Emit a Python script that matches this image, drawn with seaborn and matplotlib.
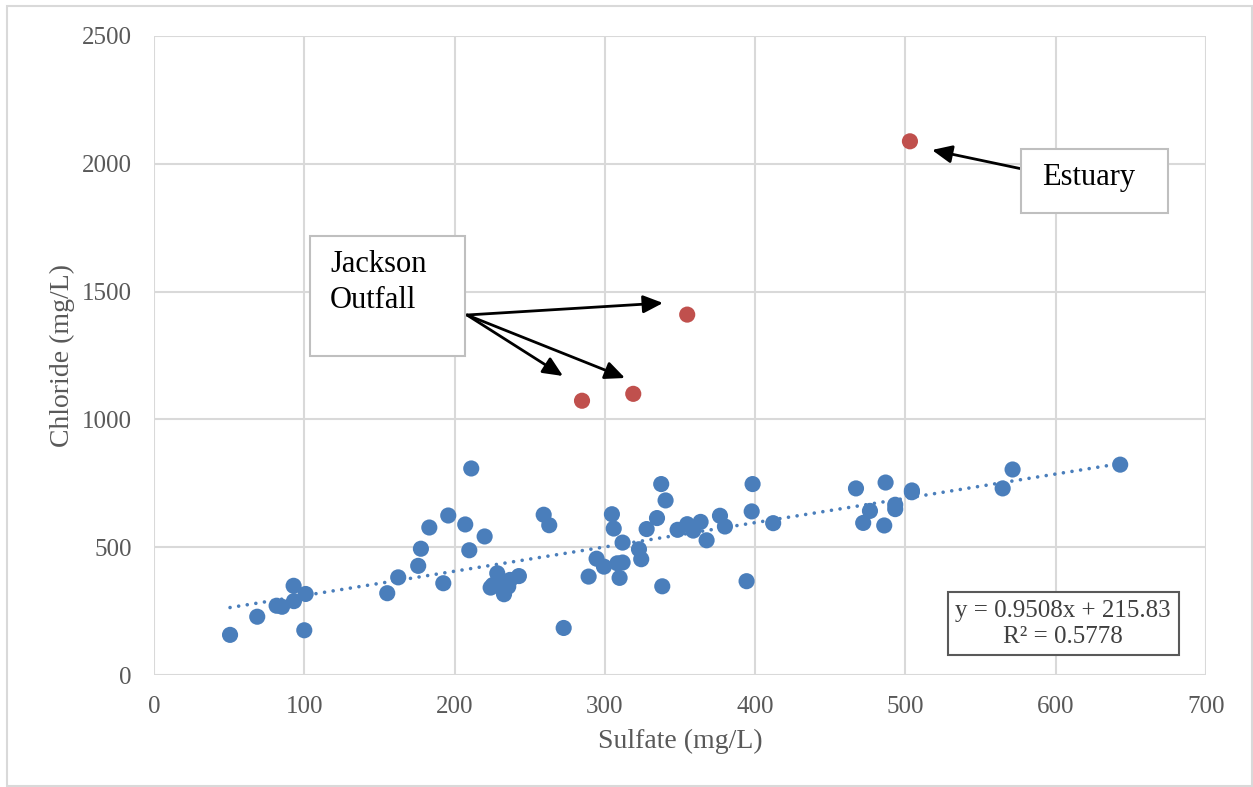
import numpy as np
import pandas as pd
import matplotlib
matplotlib.use("Agg")
import matplotlib.pyplot as plt
from matplotlib.patches import Rectangle
import seaborn as sns

# ---- data ----
sulfate_sites = [50.6, 68.7, 81.6, 85.2, 92.9, 93.1, 100.9, 100.0, 155.2, 162.5,
                 175.8, 177.6, 183.2, 195.8, 192.5, 211.1, 207.1, 220.0, 209.8,
                 224.0, 228.4, 232.9, 235.7, 236.9, 242.8, 230.2, 225.5,
                 259.3, 263.0, 272.6, 289.2, 294.5, 299.4, 304.7, 305.9, 311.8,
                 308.3, 311.8, 309.8, 322.7, 324.2, 327.8, 334.7, 337.5, 340.4,
                 338.2, 348.4, 354.8, 358.8, 363.7, 367.7, 376.6, 379.9, 398.3,
                 397.7, 394.3, 412.0, 467.1, 486.8, 476.4, 471.9, 485.9, 493.2,
                 493.2, 504.3, 504.3, 564.7, 571.3, 642.9]
chloride_sites = [157, 228, 271, 267, 349, 289, 317, 175, 320, 382,
                  427, 494, 577, 624, 359, 808, 589, 542, 488,
                  342, 398, 316, 346, 372, 387, 359, 352,
                  627, 586, 184, 385, 455, 424, 629, 573, 518,
                  437, 440, 380, 492, 453, 571, 614, 747, 683,
                  347, 568, 590, 565, 599, 527, 623, 581, 747,
                  640, 367, 594, 730, 753, 642, 595, 585, 649,
                  666, 722, 715, 730, 804, 823]
sulfate_outliers = [284.8, 318.9, 354.8, 503.0]
chloride_outliers = [1073, 1100, 1410, 2088]

trend_slope = 0.9508
trend_intercept = 215.83
equation_text = "y = 0.9508x + 215.83\nR² = 0.5778"

x_ticks = [0, 100, 200, 300, 400, 500, 600, 700]
y_ticks = [0, 500, 1000, 1500, 2000, 2500]

# ---- figure ----
W, H = 1253, 787
sns.set_theme(style="white")
plt.rcParams['font.family'] = ['Liberation Serif', 'DejaVu Serif']

fig = plt.figure(figsize=(W / 100, H / 100), dpi=100)
ax = fig.add_axes([154 / W, 1 - 675 / H, (1206 - 154) / W, (675 - 36) / H])

df = pd.DataFrame({
    "Sulfate": sulfate_sites + sulfate_outliers,
    "Chloride": chloride_sites + chloride_outliers,
    "group": ["site"] * len(sulfate_sites) + ["outlier"] * len(sulfate_outliers),
})

blue = "#4A7EBB"
red = "#C0504D"

# trendline
tx = np.array([min(sulfate_sites), max(sulfate_sites)])
trend_df = pd.DataFrame({"Sulfate": tx, "Chloride": trend_slope * tx + trend_intercept})
sns.lineplot(data=trend_df, x="Sulfate", y="Chloride", ax=ax, color=blue,
             lw=2.6, linestyle=(0, (0.01, 2.4)), dash_capstyle="round", zorder=3)

sns.scatterplot(data=df, x="Sulfate", y="Chloride", hue="group",
                palette={"site": blue, "outlier": red}, s=135, linewidth=0,
                ax=ax, legend=False, zorder=4)

ax.set_xlim(0, 700)
ax.set_ylim(0, 2500)
ax.set_xticks(x_ticks)
ax.set_yticks(y_ticks)
ax.grid(True, color="#D9D9D9", lw=1.5)
ax.set_axisbelow(True)
for s in ax.spines.values():
    s.set_visible(False)
ax.tick_params(axis="both", length=0, labelsize=18, labelcolor="#595959")
ax.tick_params(axis="x", pad=15)
ax.tick_params(axis="y", pad=16)
ax.set_xlabel("Sulfate (mg/L)", fontsize=20, color="#595959", labelpad=8)
ax.set_ylabel("Chloride (mg/L)", fontsize=20, color="#595959", labelpad=5)


def fx(px):
    return px / W


def fy(py):
    return 1 - py / H


# outer chart border
fig.patches.append(Rectangle((fx(7), fy(786)), fx(1252) - fx(7), fy(6) - fy(786),
                             transform=fig.transFigure, fill=False,
                             edgecolor="#D9D9D9", lw=1.5))

# Jackson Outfall box
fig.patches.append(Rectangle((fx(310), fy(356)), fx(465) - fx(310), fy(236) - fy(356),
                             transform=fig.transFigure, facecolor="white",
                             edgecolor="#BFBFBF", lw=1.5, zorder=5))
fig.text(fx(330), fy(265), "Jackson", fontsize=22, color="black", va="center",
         ha="left", zorder=6)
fig.text(fx(330), fy(300), "Outfall", fontsize=22, color="black", va="center",
         ha="left", zorder=6)

# Estuary box
fig.patches.append(Rectangle((fx(1021), fy(213)), fx(1168) - fx(1021), fy(149) - fy(213),
                             transform=fig.transFigure, facecolor="white",
                             edgecolor="#BFBFBF", lw=1.5, zorder=5))
fig.text(fx(1089), fy(178), "Estuary", fontsize=22, color="black", va="center",
         ha="center", zorder=6)

# Equation box
fig.patches.append(Rectangle((fx(948), fy(655)), fx(1179) - fx(948), fy(592) - fy(655),
                             transform=fig.transFigure, facecolor="white",
                             edgecolor="#595959", lw=1.5, zorder=5))
fig.text(fx(1063), fy(624), equation_text, fontsize=18, color="#404040", va="center",
         ha="center", zorder=6, linespacing=1.25)

# arrows
arrow_kw = dict(arrowstyle="-|>,head_length=1.0,head_width=0.45", color="black", lw=2)
for (x0, y0, x1, y1) in [(467, 315, 663, 303), (467, 315, 563, 376),
                         (467, 315, 625, 378), (1027, 170, 932, 150)]:
    ax.annotate("", xy=(x1, H - y1), xycoords="figure pixels",
                xytext=(x0, H - y0), textcoords="figure pixels",
                arrowprops=dict(shrinkA=0, shrinkB=0, **arrow_kw), zorder=7)

fig.savefig("out.png", dpi=100)
